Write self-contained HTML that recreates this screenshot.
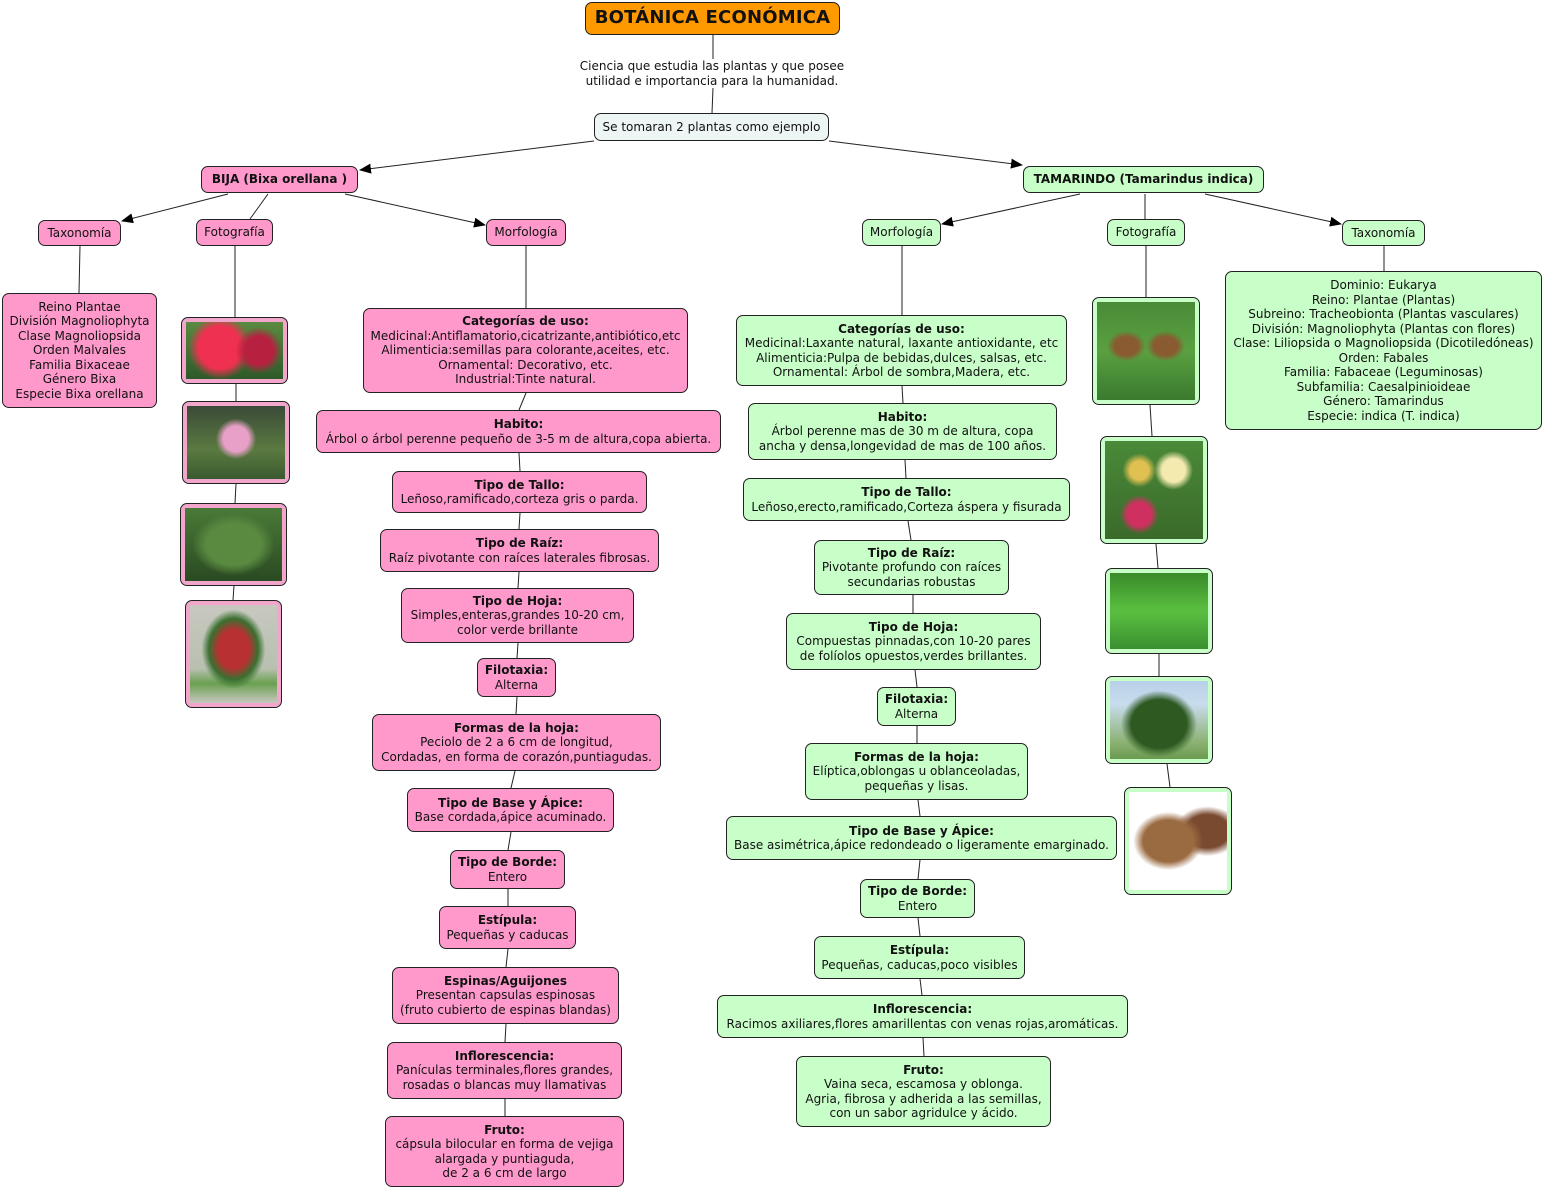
<!DOCTYPE html>
<html><head><meta charset="utf-8"><style>
body{margin:0;width:1544px;height:1189px;background:#fff;position:relative;overflow:hidden;font-family:"DejaVu Sans","Liberation Sans",sans-serif;font-size:12px;color:#111}
.b{position:absolute;box-sizing:border-box;border:1px solid #222;border-radius:7px;display:flex;flex-direction:column;align-items:center;justify-content:center;text-align:center;line-height:14.5px;white-space:nowrap}
.p{background:#ff99cc}.g{background:#c8ffc8}
.b b{font-weight:bold}
.ph{position:absolute;box-sizing:border-box;border:1px solid #222;border-radius:7px;padding:4px}
.ph div{width:100%;height:100%}
.pp{background:#f2a6cc}.pg{background:#c8ffc8}
svg{position:absolute;left:0;top:0}
</style></head><body>
<svg width="1544" height="1189">
<defs><marker id="a" markerWidth="12" markerHeight="10" refX="11" refY="5" orient="auto" markerUnits="userSpaceOnUse"><path d="M0,0L12,5L0,10z" fill="#000"/></marker></defs>
<g stroke="#222" stroke-width="1" fill="none">
<line x1="713" y1="35" x2="713" y2="60"/>
<line x1="713" y1="88" x2="712" y2="113"/>
<line x1="594" y1="141" x2="360" y2="170" marker-end="url(#a)"/>
<line x1="829" y1="141" x2="1022" y2="165" marker-end="url(#a)"/>
<line x1="228" y1="194" x2="122" y2="221" marker-end="url(#a)"/>
<line x1="268" y1="194" x2="250" y2="219"/>
<line x1="345" y1="194" x2="485" y2="225" marker-end="url(#a)"/>
<line x1="1080" y1="194" x2="942" y2="224" marker-end="url(#a)"/>
<line x1="1145" y1="194" x2="1145" y2="219"/>
<line x1="1205" y1="194" x2="1341" y2="224" marker-end="url(#a)"/>
<line x1="80" y1="246" x2="79" y2="293"/>
<line x1="235" y1="246" x2="235" y2="317"/>
<line x1="236" y1="384" x2="236" y2="401"/>
<line x1="236" y1="484" x2="235" y2="503"/>
<line x1="234" y1="586" x2="233" y2="600"/>
<line x1="526" y1="246" x2="526" y2="308"/>
<line x1="526" y1="393" x2="519" y2="410"/>
<line x1="519" y1="453" x2="520" y2="471"/>
<line x1="520" y1="513" x2="519" y2="529"/>
<line x1="519" y1="572" x2="518" y2="588"/>
<line x1="518" y1="643" x2="517" y2="658"/>
<line x1="517" y1="697" x2="516" y2="714"/>
<line x1="515" y1="771" x2="511" y2="788"/>
<line x1="511" y1="832" x2="508" y2="850"/>
<line x1="508" y1="889" x2="508" y2="906"/>
<line x1="508" y1="949" x2="506" y2="967"/>
<line x1="506" y1="1024" x2="505" y2="1042"/>
<line x1="505" y1="1099" x2="505" y2="1116"/>
<line x1="902" y1="246" x2="902" y2="315"/>
<line x1="902" y1="386" x2="903" y2="403"/>
<line x1="905" y1="460" x2="906" y2="478"/>
<line x1="908" y1="521" x2="911" y2="540"/>
<line x1="913" y1="595" x2="913" y2="613"/>
<line x1="915" y1="670" x2="917" y2="687"/>
<line x1="917" y1="726" x2="917" y2="743"/>
<line x1="918" y1="800" x2="920" y2="816"/>
<line x1="920" y1="860" x2="918" y2="879"/>
<line x1="918" y1="918" x2="920" y2="936"/>
<line x1="920" y1="979" x2="922" y2="995"/>
<line x1="923" y1="1038" x2="924" y2="1056"/>
<line x1="1146" y1="246" x2="1146" y2="297"/>
<line x1="1150" y1="405" x2="1152" y2="436"/>
<line x1="1156" y1="544" x2="1158" y2="568"/>
<line x1="1159" y1="654" x2="1159" y2="676"/>
<line x1="1167" y1="764" x2="1170" y2="787"/>
<line x1="1384" y1="246" x2="1384" y2="271"/>
</g></svg>

<div class="b" style="left:585px;top:2px;width:255px;height:33px;background:#ff9900;font-weight:bold;font-size:18px;letter-spacing:0.2px">BOTÁNICA ECONÓMICA</div>
<div style="position:absolute;left:550px;top:59px;width:324px;text-align:center;line-height:14.5px;background:#fff">Ciencia que estudia las plantas y que posee<br>utilidad e importancia para la humanidad.</div>
<div class="b" style="left:594px;top:113px;width:235px;height:28px;background:#eef5f5">Se tomaran 2 plantas como ejemplo</div>

<div class="b p" style="left:201px;top:166px;width:157px;height:27px"><b>BIJA (Bixa orellana )</b></div>
<div class="b g" style="left:1023px;top:166px;width:241px;height:27px"><b>TAMARINDO (Tamarindus indica)</b></div>

<div class="b p" style="left:38px;top:220px;width:83px;height:26px">Taxonomía</div>
<div class="b p" style="left:196px;top:219px;width:77px;height:27px">Fotografía</div>
<div class="b p" style="left:486px;top:219px;width:80px;height:27px">Morfología</div>
<div class="b g" style="left:862px;top:219px;width:79px;height:27px">Morfología</div>
<div class="b g" style="left:1107px;top:219px;width:78px;height:27px">Fotografía</div>
<div class="b g" style="left:1342px;top:220px;width:83px;height:26px">Taxonomía</div>

<div class="b p" style="left:2px;top:293px;width:155px;height:115px">Reino Plantae<br>División Magnoliophyta<br>Clase Magnoliopsida<br>Orden Malvales<br>Familia Bixaceae<br>Género Bixa<br>Especie Bixa orellana</div>

<div class="ph pp" style="left:181px;top:317px;width:107px;height:67px"><div style="background:radial-gradient(circle at 75% 50%,#b82040 0 18%,transparent 30%),radial-gradient(circle at 35% 45%,#f03050 0 30%,transparent 45%),linear-gradient(#5a8a40,#2e5a2a)"></div></div>
<div class="ph pp" style="left:182px;top:401px;width:108px;height:83px"><div style="background:radial-gradient(circle at 50% 45%,#e8a0c8 0 20%,transparent 32%),linear-gradient(#3a4a38,#5a7a40 60%,#3a5a30)"></div></div>
<div class="ph pp" style="left:180px;top:503px;width:107px;height:83px"><div style="background:radial-gradient(ellipse at 50% 50%,#5a8a40 0 40%,transparent 60%),linear-gradient(#4a7a38,#2a4a22)"></div></div>
<div class="ph pp" style="left:185px;top:600px;width:97px;height:108px"><div style="background:radial-gradient(ellipse at 50% 45%,#b83030 0 25%,#3a7030 40%,transparent 52%),linear-gradient(#c8c8c0,#b8c0b0 65%,#6aa050 80%,#c8c8c0)"></div></div>

<div class="b p" style="left:363px;top:308px;width:325px;height:85px"><b>Categorías de uso:</b>Medicinal:Antiflamatorio,cicatrizante,antibiótico,etc<br>Alimenticia:semillas para colorante,aceites, etc.<br>Ornamental: Decorativo, etc.<br>Industrial:Tinte natural.</div>
<div class="b p" style="left:316px;top:410px;width:405px;height:43px"><b>Habito:</b>Árbol o árbol perenne pequeño de 3-5 m de altura,copa abierta.</div>
<div class="b p" style="left:392px;top:471px;width:255px;height:42px"><b>Tipo de Tallo:</b>Leñoso,ramificado,corteza gris o parda.</div>
<div class="b p" style="left:380px;top:529px;width:279px;height:43px"><b>Tipo de Raíz:</b>Raíz pivotante con raíces laterales fibrosas.</div>
<div class="b p" style="left:401px;top:588px;width:233px;height:55px"><b>Tipo de Hoja:</b>Simples,enteras,grandes 10-20 cm,<br>color verde brillante</div>
<div class="b p" style="left:477px;top:658px;width:79px;height:39px"><b>Filotaxia:</b>Alterna</div>
<div class="b p" style="left:372px;top:714px;width:289px;height:57px"><b>Formas de la hoja:</b>Peciolo de 2 a 6 cm de longitud,<br>Cordadas, en forma de corazón,puntiagudas.</div>
<div class="b p" style="left:407px;top:788px;width:207px;height:44px"><b>Tipo de Base y Ápice:</b>Base cordada,ápice acuminado.</div>
<div class="b p" style="left:450px;top:850px;width:115px;height:39px"><b>Tipo de Borde:</b>Entero</div>
<div class="b p" style="left:439px;top:906px;width:137px;height:43px"><b>Estípula:</b>Pequeñas y caducas</div>
<div class="b p" style="left:392px;top:967px;width:227px;height:57px"><b>Espinas/Aguijones</b>Presentan capsulas espinosas<br>(fruto cubierto de espinas blandas)</div>
<div class="b p" style="left:387px;top:1042px;width:235px;height:57px"><b>Inflorescencia:</b>Panículas terminales,flores grandes,<br>rosadas o blancas muy llamativas</div>
<div class="b p" style="left:385px;top:1116px;width:239px;height:71px"><b>Fruto:</b>cápsula bilocular en forma de vejiga<br>alargada y puntiaguda,<br>de 2 a 6 cm de largo</div>

<div class="b g" style="left:736px;top:315px;width:331px;height:71px"><b>Categorías de uso:</b>Medicinal:Laxante natural, laxante antioxidante, etc<br>Alimenticia:Pulpa de bebidas,dulces, salsas, etc.<br>Ornamental: Árbol de sombra,Madera, etc.</div>
<div class="b g" style="left:748px;top:403px;width:309px;height:57px"><b>Habito:</b>Árbol perenne mas de 30 m de altura, copa<br>ancha y densa,longevidad de mas de 100 años.</div>
<div class="b g" style="left:743px;top:478px;width:327px;height:43px"><b>Tipo de Tallo:</b>Leñoso,erecto,ramificado,Corteza áspera y fisurada</div>
<div class="b g" style="left:814px;top:540px;width:195px;height:55px"><b>Tipo de Raíz:</b>Pivotante profundo con raíces<br>secundarias robustas</div>
<div class="b g" style="left:786px;top:613px;width:255px;height:57px"><b>Tipo de Hoja:</b>Compuestas pinnadas,con 10-20 pares<br>de folíolos opuestos,verdes brillantes.</div>
<div class="b g" style="left:877px;top:687px;width:79px;height:39px"><b>Filotaxia:</b>Alterna</div>
<div class="b g" style="left:805px;top:743px;width:223px;height:57px"><b>Formas de la hoja:</b>Elíptica,oblongas u oblanceoladas,<br>pequeñas y lisas.</div>
<div class="b g" style="left:726px;top:816px;width:391px;height:44px"><b>Tipo de Base y Ápice:</b>Base asimétrica,ápice redondeado o ligeramente emarginado.</div>
<div class="b g" style="left:860px;top:879px;width:115px;height:39px"><b>Tipo de Borde:</b>Entero</div>
<div class="b g" style="left:814px;top:936px;width:211px;height:43px"><b>Estípula:</b>Pequeñas, caducas,poco visibles</div>
<div class="b g" style="left:717px;top:995px;width:411px;height:43px"><b>Inflorescencia:</b>Racimos axiliares,flores amarillentas con venas rojas,aromáticas.</div>
<div class="b g" style="left:796px;top:1056px;width:255px;height:71px"><b>Fruto:</b>Vaina seca, escamosa y oblonga.<br>Agria, fibrosa y adherida a las semillas,<br>con un sabor agridulce y ácido.</div>

<div class="b g" style="left:1225px;top:271px;width:317px;height:159px">Dominio: Eukarya<br>Reino: Plantae (Plantas)<br>Subreino: Tracheobionta (Plantas vasculares)<br>División: Magnoliophyta (Plantas con flores)<br>Clase: Liliopsida o Magnoliopsida (Dicotiledóneas)<br>Orden: Fabales<br>Familia: Fabaceae (Leguminosas)<br>Subfamilia: Caesalpinioideae<br>Género: Tamarindus<br>Especie: indica (T. indica)</div>

<div class="ph pg" style="left:1092px;top:297px;width:108px;height:108px"><div style="background:radial-gradient(ellipse at 30% 45%,#8a5a30 0 12%,transparent 20%),radial-gradient(ellipse at 70% 45%,#8a5a30 0 12%,transparent 20%),linear-gradient(#4a8a38,#5aa040 50%,#3a7a2e)"></div></div>
<div class="ph pg" style="left:1100px;top:436px;width:108px;height:108px"><div style="background:radial-gradient(circle at 70% 30%,#f4eab0 0 12%,transparent 20%),radial-gradient(circle at 35% 75%,#d03060 0 12%,transparent 20%),radial-gradient(circle at 35% 30%,#e0c050 0 10%,transparent 18%),linear-gradient(#4a8a38,#3a6a2a)"></div></div>
<div class="ph pg" style="left:1105px;top:568px;width:108px;height:86px"><div style="background:linear-gradient(#3a8a2a,#5ac040 50%,#3a9030)"></div></div>
<div class="ph pg" style="left:1105px;top:676px;width:108px;height:88px"><div style="background:radial-gradient(ellipse at 50% 55%,#2e5a22 0 40%,transparent 55%),linear-gradient(#b8d0e8,#c8dcec 30%,#8ab070 80%,#6a9a50)"></div></div>
<div class="ph pg" style="left:1124px;top:787px;width:108px;height:108px"><div style="background:radial-gradient(ellipse at 40% 50%,#9a6a40 0 30%,transparent 42%),radial-gradient(ellipse at 80% 40%,#7a4a30 0 20%,transparent 30%),#fff"></div></div>
</body></html>
